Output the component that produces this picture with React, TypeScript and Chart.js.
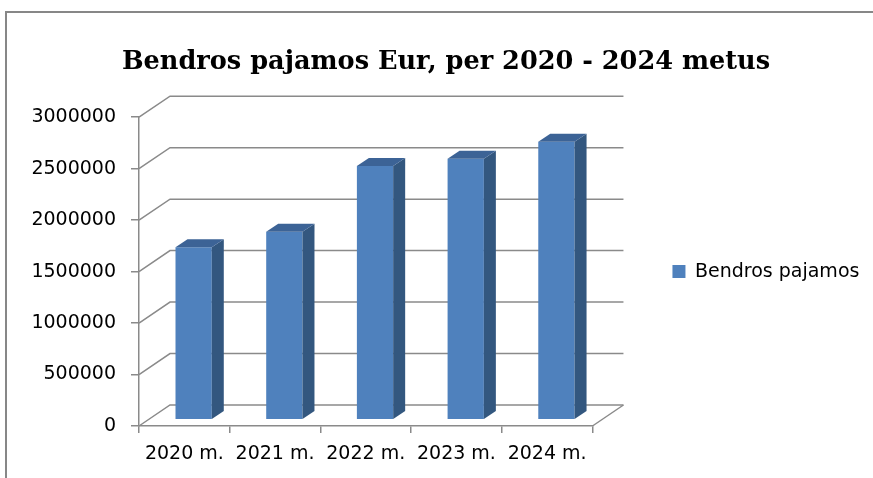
import React, { useEffect, useRef } from 'react';
import { Chart, registerables } from 'chart.js';

Chart.register(...registerables);

const titleText = 'Bendros pajamos Eur, per 2020 - 2024 metus';
const seriesName = 'Bendros pajamos';
const categories = ['2020 m.', '2021 m.', '2022 m.', '2023 m.', '2024 m.'];
const values = [1675000, 1825000, 2465000, 2535000, 2700000];
const yTickValues = [0, 500000, 1000000, 1500000, 2000000, 2500000, 3000000];
const yTickLabels = ['0', '500000', '1000000', '1500000', '2000000', '2500000', '3000000'];

const GRID = '#8a8a8a';
const FRONT = '#4f81bd';
const SIDE = '#33577f';
const TOP = '#3c6396';
const DX = 31;
const DY = -21;
const SHIFT_X = 9.3;
const SHIFT_Y = -6.3;
const BAR_DX = 12;
const BAR_DY = -8;

const threeD = {
  id: 'threeD',
  beforeDraw(chart: any) {
    const { ctx, width, height } = chart;
    ctx.save();
    ctx.strokeStyle = '#878787';
    ctx.lineWidth = 2;
    ctx.beginPath();
    ctx.moveTo(6, height + 2);
    ctx.lineTo(6, 12);
    ctx.lineTo(width + 2, 12);
    ctx.stroke();
    ctx.restore();
  },
  beforeDatasetsDraw(chart: any) {
    const { ctx, chartArea, scales } = chart;
    const { left, right, bottom } = chartArea;
    const y = scales.y;
    ctx.save();
    ctx.strokeStyle = GRID;
    ctx.lineWidth = 1.5;
    yTickValues.forEach((v) => {
      const py = y.getPixelForValue(v);
      ctx.beginPath();
      ctx.moveTo(left, py);
      ctx.lineTo(left + DX, py + DY);
      ctx.lineTo(right + DX, py + DY);
      ctx.stroke();
    });
    ctx.beginPath();
    ctx.moveTo(right, bottom);
    ctx.lineTo(right + DX, bottom + DY);
    ctx.stroke();
    ctx.restore();
  },
  beforeDatasetDraw(chart: any) {
    chart.ctx.save();
    chart.ctx.translate(SHIFT_X, SHIFT_Y);
  },
  afterDatasetDraw(chart: any, args: any) {
    const ctx = chart.ctx;
    args.meta.data.forEach((el: any) => {
      const { x, y, base, width } = el.getProps(['x', 'y', 'base', 'width'], true);
      const xl = x - width / 2;
      const xr = x + width / 2;
      ctx.fillStyle = SIDE;
      ctx.beginPath();
      ctx.moveTo(xr, y);
      ctx.lineTo(xr + BAR_DX, y + BAR_DY);
      ctx.lineTo(xr + BAR_DX, base + BAR_DY);
      ctx.lineTo(xr, base);
      ctx.closePath();
      ctx.fill();
      ctx.fillStyle = TOP;
      ctx.beginPath();
      ctx.moveTo(xl, y);
      ctx.lineTo(xl + BAR_DX, y + BAR_DY);
      ctx.lineTo(xr + BAR_DX, y + BAR_DY);
      ctx.lineTo(xr, y);
      ctx.closePath();
      ctx.fill();
    });
    ctx.restore();
  },
};

export default function App() {
  const ref = useRef<HTMLCanvasElement | null>(null);
  useEffect(() => {
    if (!ref.current) return;
    const chart = new Chart(ref.current, {
      type: 'bar',
      data: {
        labels: categories,
        datasets: [
          {
            label: seriesName,
            data: values,
            backgroundColor: FRONT,
            borderWidth: 0,
            categoryPercentage: 1,
            barPercentage: 0.4,
            clip: false as any,
          },
        ],
      },
      options: {
        responsive: false,
        animation: false,
        devicePixelRatio: 1,
        layout: { padding: { left: 22.6, right: 3.6, top: 0, bottom: 0 } },
        plugins: {
          title: {
            display: true,
            text: titleText,
            color: '#000',
            font: { family: 'DejaVu Serif', weight: 'bold', size: 25.6 },
            padding: { top: 46.5, bottom: 40 },
          },
          legend: {
            position: 'right',
            fullSize: false,
            maxWidth: 320,
            labels: {
              boxWidth: 13,
              boxHeight: 13,
              padding: 80,
              color: '#000',
              font: { family: 'DejaVu Sans', size: 19 },
            },
          },
          tooltip: { enabled: false },
        },
        scales: {
          x: {
            grid: { drawOnChartArea: false, drawTicks: true, tickLength: 7, color: GRID, lineWidth: 1.5, offset: true },
            border: { display: true, color: GRID, width: 1.5 },
            ticks: { color: '#000', padding: 10, font: { family: 'DejaVu Sans', size: 19 } },
            afterFit: (scale: any) => {
              scale.height = 52;
            },
          },
          y: {
            min: 0,
            max: 3000000,
            afterBuildTicks: (scale: any) => {
              scale.ticks = yTickValues.map((v) => ({ value: v }));
            },
            grid: { drawOnChartArea: false, drawTicks: true, tickLength: 8, color: GRID, lineWidth: 1.5 },
            border: { display: true, color: GRID, width: 1.5 },
            ticks: {
              color: '#000',
              padding: 15,
              font: { family: 'DejaVu Sans', size: 19 },
              callback: (v: any) => {
                const i = yTickValues.indexOf(Number(v));
                return i >= 0 ? yTickLabels[i] : '';
              },
            },
            afterFit: (scale: any) => {
              scale.width = 116.4;
            },
          },
        },
      },
      plugins: [threeD],
    });
    return () => chart.destroy();
  }, []);
  return (
    <div style={{ position: 'absolute', left: 0, top: 0, width: 873, height: 478, background: '#fff' }}>
      <canvas ref={ref} width={873} height={478} />
    </div>
  );
}
